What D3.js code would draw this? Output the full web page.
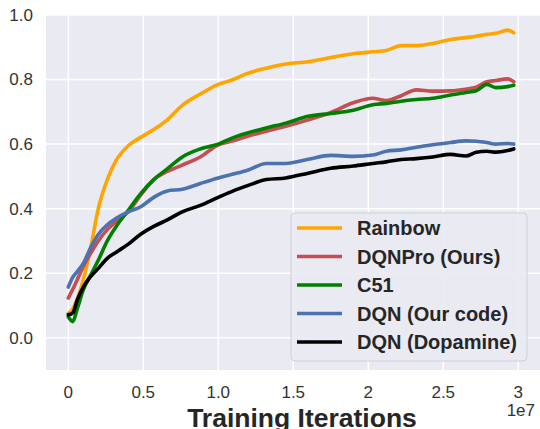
<html>
<head>
<script src="https://cdn.jsdelivr.net/npm/d3@7"></script>
<style>
  body { margin: 0; background: #fff; }
  svg { display: block; font-family: "Liberation Sans", Arial, sans-serif; }
</style>
</head>
<body>
<svg id="svg"></svg>
<script>
// training iterations (x 1e7)
var iters = [0, 0.03, 0.06, 0.1, 0.15, 0.2, 0.26, 0.32, 0.4, 0.48, 0.57, 0.66, 0.76, 0.88,
             1.0, 1.1, 1.2, 1.32, 1.45, 1.6, 1.75, 1.9, 2.03, 2.12, 2.22, 2.32, 2.43, 2.55,
             2.65, 2.72, 2.79, 2.85, 2.93, 2.97];

var rainbow = [0.075, 0.09, 0.12, 0.18, 0.28, 0.40, 0.49, 0.55, 0.595, 0.62, 0.645, 0.675, 0.72, 0.755,
               0.785, 0.80, 0.82, 0.835, 0.848, 0.855, 0.868, 0.88, 0.886, 0.89, 0.905, 0.905, 0.912, 0.924,
               0.93, 0.934, 0.94, 0.943, 0.953, 0.945];
var dqnpro = [0.123, 0.15, 0.18, 0.22, 0.262, 0.30, 0.335, 0.36, 0.39, 0.44, 0.49, 0.515, 0.535, 0.56,
              0.598, 0.61, 0.625, 0.64, 0.655, 0.675, 0.698, 0.728, 0.742, 0.735, 0.75, 0.768, 0.764, 0.765,
              0.77, 0.776, 0.793, 0.797, 0.802, 0.793];
var c51 = [0.065, 0.05, 0.09, 0.148, 0.195, 0.24, 0.30, 0.345, 0.395, 0.445, 0.49, 0.523, 0.56, 0.585,
           0.60, 0.62, 0.635, 0.65, 0.665, 0.686, 0.695, 0.705, 0.722, 0.726, 0.733, 0.738, 0.742, 0.752,
           0.76, 0.765, 0.785, 0.775, 0.778, 0.782];
var dqnOurs = [0.157, 0.188, 0.205, 0.23, 0.28, 0.32, 0.35, 0.37, 0.39, 0.405, 0.435, 0.455, 0.46, 0.478,
               0.495, 0.507, 0.52, 0.54, 0.54, 0.553, 0.565, 0.562, 0.566, 0.578, 0.582, 0.59, 0.598, 0.605,
               0.61, 0.609, 0.605, 0.60, 0.602, 0.60];
var dqnDopamine = [0.071, 0.077, 0.117, 0.157, 0.19, 0.215, 0.246, 0.265, 0.29, 0.32, 0.345, 0.365, 0.39, 0.41,
                   0.435, 0.455, 0.472, 0.49, 0.495, 0.51, 0.525, 0.532, 0.54, 0.545, 0.552, 0.555, 0.56, 0.568,
                   0.563, 0.575, 0.578, 0.575, 0.58, 0.585];

var seriesNames = ["Rainbow", "DQNPro (Ours)", "C51", "DQN (Our code)", "DQN (Dopamine)"];
var seriesValues = [rainbow, dqnpro, c51, dqnOurs, dqnDopamine];
var colors = ["#FFA500", "#C44E52", "#008000", "#4C72B0", "#000000"];

var xTicks = [0, 0.5, 1.0, 1.5, 2, 2.5, 3];
var xTickLabels = ["0", "0.5", "1.0", "1.5", "2", "2.5", "3"];
var yTicks = [0.0, 0.2, 0.4, 0.6, 0.8, 1.0];

var svgWidth = 540, svgHeight = 429;
var plotLeft = 46, plotRight = 540, plotTop = 15, plotBottom = 370;

var svg = d3.select("svg").attr("width", svgWidth).attr("height", svgHeight);

var xScale = d3.scaleLinear().domain([-0.1485, 3.145]).range([plotLeft, plotRight]);
var yScale = d3.scaleLinear().domain([-0.1, 1.0]).range([plotBottom, plotTop]);

// background
svg.append("rect").attr("x", plotLeft).attr("y", plotTop)
   .attr("width", plotRight - plotLeft).attr("height", plotBottom - plotTop).attr("fill", "#EAEAF2");

// grid
svg.append("g").selectAll("line").data(xTicks).enter().append("line")
   .attr("x1", d => xScale(d)).attr("x2", d => xScale(d))
   .attr("y1", plotTop).attr("y2", plotBottom)
   .attr("stroke", "#fff").attr("stroke-width", 1.5);
svg.append("g").selectAll("line").data(yTicks).enter().append("line")
   .attr("x1", plotLeft).attr("x2", plotRight)
   .attr("y1", d => yScale(d)).attr("y2", d => yScale(d))
   .attr("stroke", "#fff").attr("stroke-width", 1.5);

// tick labels
svg.append("g").selectAll("text").data(xTicks).enter().append("text")
   .attr("x", d => xScale(d)).attr("y", 398)
   .attr("text-anchor", "middle").attr("font-size", 17).attr("fill", "#333")
   .text((d, i) => xTickLabels[i]);
svg.append("g").selectAll("text").data(yTicks).enter().append("text")
   .attr("x", 33).attr("y", d => yScale(d)).attr("dy", "0.35em")
   .attr("text-anchor", "end").attr("font-size", 17).attr("fill", "#333")
   .text(d => d.toFixed(1));

// lines
var line = d3.line()
   .curve(d3.curveMonotoneX)
   .x((d, i) => xScale(iters[i]))
   .y(d => yScale(d));

svg.append("g").selectAll("path").data(seriesValues).enter().append("path")
   .attr("d", d => line(d))
   .attr("fill", "none")
   .attr("stroke", (d, i) => colors[i])
   .attr("stroke-width", 3.6)
   .attr("stroke-linejoin", "round")
   .attr("stroke-linecap", "round");

// axis label and offset
svg.append("text").attr("x", 302).attr("y", 427)
   .attr("text-anchor", "middle").attr("font-size", 26.5).attr("font-weight", "bold")
   .attr("fill", "#262626").text("Training Iterations");
svg.append("text").attr("x", 535).attr("y", 416)
   .attr("text-anchor", "end").attr("font-size", 17).attr("fill", "#333").text("1e7");

// legend
var legend = svg.append("g");
legend.append("rect").attr("x", 291).attr("y", 213).attr("width", 236).attr("height", 148)
   .attr("rx", 4).attr("fill", "#EAEAF2").attr("fill-opacity", 0.9)
   .attr("stroke", "#d0d0d8").attr("stroke-width", 1);
var rows = legend.selectAll("g.row").data(seriesNames).enter().append("g")
   .attr("class", "row")
   .attr("transform", (d, i) => "translate(0," + (228 + i * 28.5) + ")");
rows.append("line").attr("x1", 297).attr("x2", 342).attr("y1", 0).attr("y2", 0)
   .attr("stroke", (d, i) => colors[i]).attr("stroke-width", 3.5);
rows.append("text").attr("x", 357).attr("y", 0).attr("dy", "0.35em")
   .attr("font-size", 20).attr("font-weight", "bold").attr("fill", "#262626")
   .text(d => d);
</script>
</body>
</html>
